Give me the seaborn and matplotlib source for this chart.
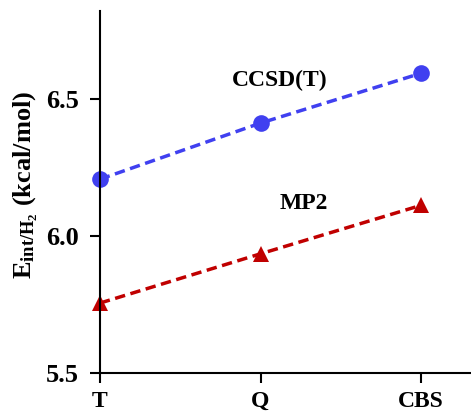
import pandas as pd
import matplotlib
matplotlib.use("Agg")
import matplotlib.pyplot as plt
import seaborn as sns

basis = ["T", "Q", "CBS"]
ccsdt = [6.207, 6.412, 6.594]
mp2 = [5.755, 5.935, 6.112]

df = pd.DataFrame({
    "basis": basis * 2,
    "E": ccsdt + mp2,
    "method": ["CCSD(T)"] * 3 + ["MP2"] * 3,
})

sns.set_style("ticks")
plt.rcParams['font.family'] = ['Liberation Serif', 'DejaVu Serif']
plt.rcParams['text.color'] = 'black'
plt.rcParams['axes.labelcolor'] = 'black'
plt.rcParams['mathtext.fontset'] = 'custom'
plt.rcParams['mathtext.rm'] = 'Liberation Serif:bold'
plt.rcParams['mathtext.it'] = 'Liberation Serif:bold'
plt.rcParams['mathtext.bf'] = 'Liberation Serif:bold'

fig = plt.figure(figsize=(4.71, 4.11), dpi=100)
ax = fig.add_axes([0.212, 0.0925, 0.788, 0.88])

colors = {"CCSD(T)": "#4040f0", "MP2": "#c00000"}
markers = {"CCSD(T)": "o", "MP2": "^"}
for m, sub in df.groupby("method", sort=False):
    sns.lineplot(data=sub, x="basis", y="E", ax=ax, color=colors[m],
                 marker=markers[m], markersize=12, markeredgewidth=0,
                 linestyle=(0, (3, 1.6)), linewidth=2.5, clip_on=False)

ax.text(1.12, 6.567, "CCSD(T)", ha="center", va="center", fontsize=17, fontweight="bold")
ax.text(1.27, 6.12, "MP2", ha="center", va="center", fontsize=17, fontweight="bold")

ax.set_xlim(0, 2.31)
ax.set_ylim(5.5, 6.82)
ax.set_yticks([5.5, 6.0, 6.5])
ax.set_yticklabels(["5.5", "6.0", "6.5"])
ax.set_xlabel("")
ax.set_ylabel(r"E$_{\mathregular{int/H_2}}$ (kcal/mol)", fontsize=19, fontweight="bold")
ax.yaxis.set_label_coords(-0.16, 0.52)
ax.tick_params(axis="both", direction="out", length=7, width=1.5, colors="black")
ax.tick_params(axis="y", labelsize=19, pad=8)
ax.tick_params(axis="x", labelsize=17, pad=6)
for lab in ax.get_xticklabels() + ax.get_yticklabels():
    lab.set_fontweight("bold")
for s in ["top", "right"]:
    ax.spines[s].set_visible(False)
for s in ["left", "bottom"]:
    ax.spines[s].set_linewidth(1.5)
    ax.spines[s].set_color("black")
if ax.get_legend():
    ax.get_legend().remove()

fig.savefig("out.png", dpi=100)
